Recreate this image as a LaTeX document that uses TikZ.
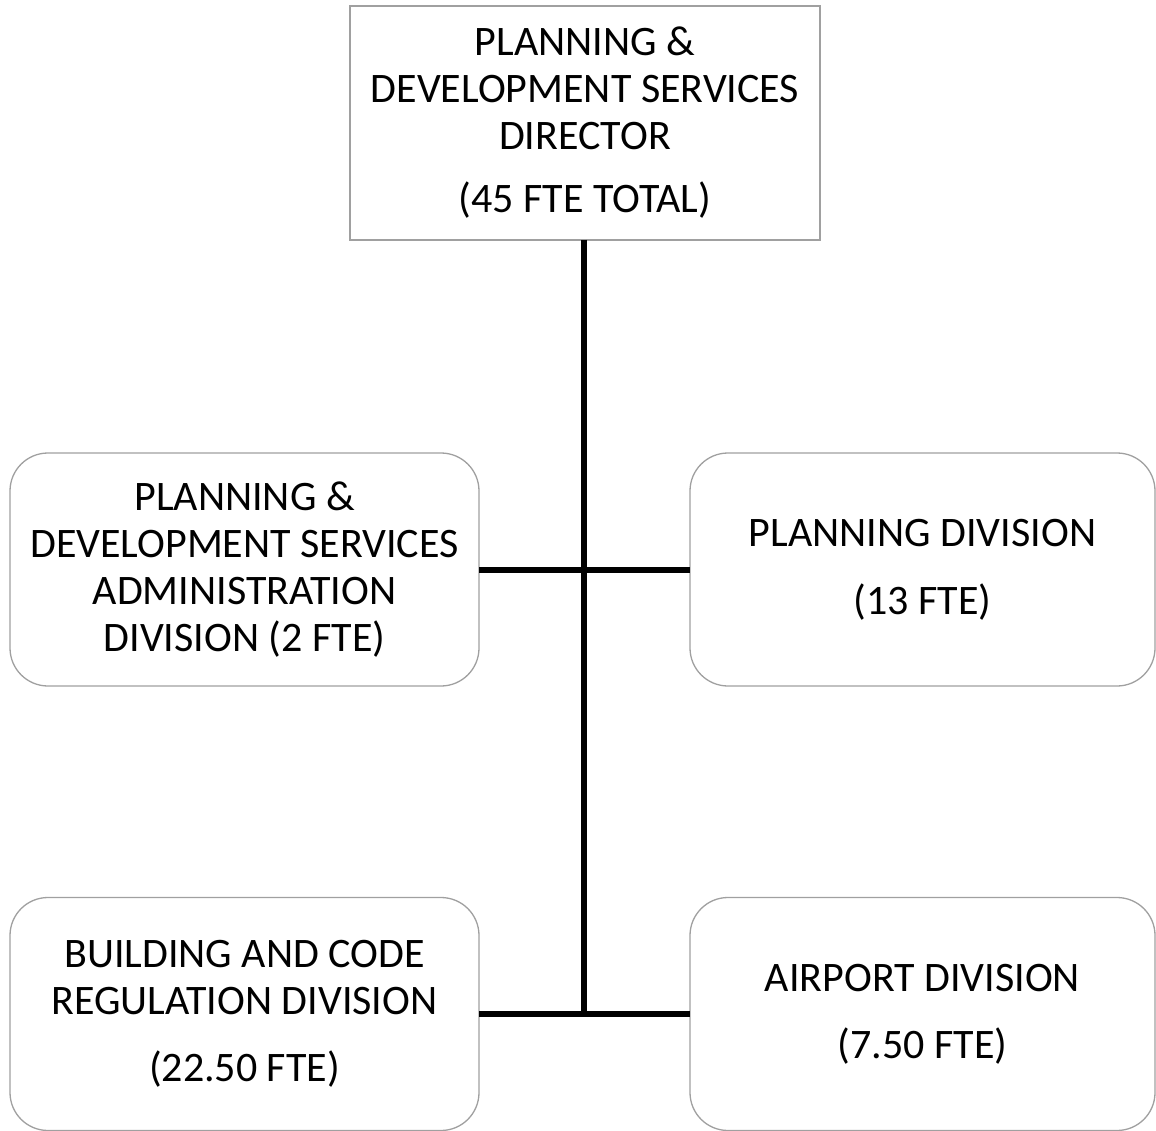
\documentclass[tikz,border=0pt]{standalone}
\usepackage{fontspec}
\setmainfont{Carlito}
\definecolor{boxgray}{HTML}{A0A0A0}
\tikzset{
  x=1pt, y=-1pt,
  orgbox/.style={draw=boxgray, line width=1.3pt, fill=white, align=center,
    font=\fontsize{42}{47}\selectfont, inner sep=0pt, outer sep=0pt},
  topbox/.style={orgbox, minimum width=470pt, minimum height=234pt},
  divbox/.style={orgbox, rounded corners=38pt, minimum width=469pt, minimum height=233pt},
  link/.style={line width=6pt, black}
}
\begin{document}
\begin{tikzpicture}
\useasboundingbox (0,0) rectangle (1156,1131);
\node[topbox] (dir) at (585,123) {PLANNING \&\\DEVELOPMENT SERVICES\\DIRECTOR\\[16pt](45 FTE TOTAL)};
\node[divbox] (adm) at (244.5,569.5) {PLANNING \&\\DEVELOPMENT SERVICES\\ADMINISTRATION\\DIVISION (2 FTE)};
\node[divbox, minimum width=465pt] (pln) at (922.5,569.5) {PLANNING DIVISION\\[21pt](13 FTE)};
\node[divbox] (bld) at (244.5,1014) {BUILDING AND CODE\\REGULATION DIVISION\\[20pt](22.50 FTE)};
\node[divbox, minimum width=465pt] (air) at (922.5,1014) {AIRPORT DIVISION\\[20pt](7.50 FTE)};
\coordinate (j1) at (584,570);
\coordinate (j2) at (584,1015);
\draw[link] (dir.south -| j1) -- (j2);
\draw[link] (adm.east) -- (pln.west);
\draw[link] (bld.east) -- (air.west);
\end{tikzpicture}
\end{document}
